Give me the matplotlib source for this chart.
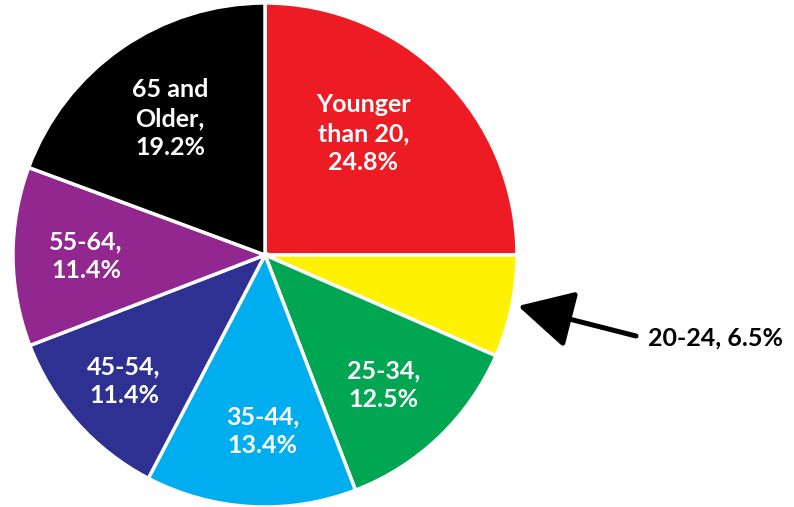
import matplotlib.pyplot as plt
import numpy as np

labels = ['Younger\nthan 20,\n24.8%', '20-24, 6.5%', '25-34,\n12.5%', '35-44,\n13.4%',
          '45-54,\n11.4%', '55-64,\n11.4%', '65 and\nOlder,\n19.2%']
values = [24.8, 6.5, 12.5, 13.4, 11.4, 11.4, 19.2]
colors = ['#ED1C24', '#FFF200', '#00A651', '#00AEEF', '#2E3192', '#92278F', '#000000']

# label placement inside each wedge: distance from centre, angle nudge (deg)
label_r = [0.62, None, 0.70, 0.70, 0.75, 0.71, 0.66]
label_da = [6, 0, -1.5, 2.5, 0, 0, 0]

plt.rcParams['font.family'] = ['Lato', 'DejaVu Sans']

fig = plt.figure(figsize=(7.94, 5.07), dpi=100)
W, H = 794, 507
cx, cy, r = 265, 255, 252
pad = 1.02
ax = fig.add_axes([(cx - r*pad)/W, (H - cy - r*pad)/H, 2*r*pad/W, 2*r*pad/H])

wedges, _ = ax.pie(values, colors=colors, startangle=90, counterclock=False,
                   wedgeprops=dict(edgecolor='white', linewidth=2.5))
ax.set_xlim(-pad, pad)
ax.set_ylim(-pad, pad)
ax.set_aspect('equal')
ax.axis('off')

for w, lab, d, da in zip(wedges, labels, label_r, label_da):
    if d is None:
        continue
    ang = np.deg2rad((w.theta1 + w.theta2) / 2 + da)
    ax.text(d*np.cos(ang), d*np.sin(ang), lab, color='white', fontsize=18,
            fontweight='bold', ha='center', va='center', linespacing=1.3)

# callout for the thin yellow slice
ax.annotate('', xy=(518/W, 1 - 306/H), xycoords='figure fraction',
            xytext=(636/W, 1 - 336/H), textcoords='figure fraction',
            arrowprops=dict(arrowstyle='-|>,head_length=3.4,head_width=1.8', color='black',
                            lw=3.6, shrinkA=0, shrinkB=0, mutation_scale=10))
fig.text(648/W, 1 - 338/H, labels[1], fontsize=18, fontweight='bold', color='black',
         ha='left', va='center')

fig.savefig('out.png', dpi=100)
